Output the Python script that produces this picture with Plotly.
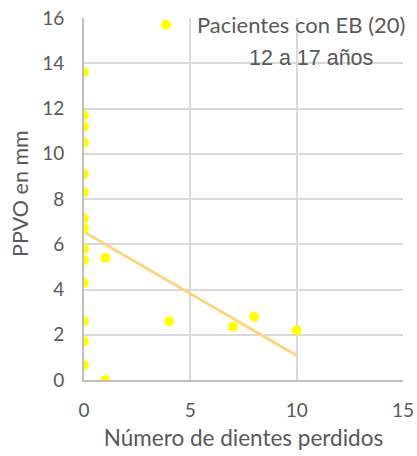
import numpy as np
import plotly.graph_objects as go

# Data
dientes_perdidos = [0, 0, 0, 0, 0, 0, 0, 0, 0, 0, 0, 0, 0, 0, 1, 1, 4, 7, 8, 10]
ppvo_mm = [13.6, 11.7, 11.2, 10.5, 9.1, 8.3, 7.15, 6.7, 5.8, 5.3, 4.3, 2.6, 1.7, 0.65,
           5.4, 0.0, 2.6, 2.35, 2.8, 2.2]
serie_nombre = "Pacientes con EB (20)"
subtitulo = "12 a 17 años"
titulo_x = "Número de dientes perdidos"
titulo_y = "PPVO en mm"
x_ticks = [0, 5, 10, 15]
y_ticks = [0, 2, 4, 6, 8, 10, 12, 14, 16]

# Linear trend line
slope, intercept = np.polyfit(dientes_perdidos, ppvo_mm, 1)
trend_x = [min(dientes_perdidos), max(dientes_perdidos)]
trend_y = [slope * v + intercept for v in trend_x]

FONT = "Lato, 'Open Sans', sans-serif"
GRAY = "#595959"
W, H = 417, 456

fig = go.Figure()
fig.add_trace(go.Scatter(
    x=trend_x, y=trend_y, mode="lines",
    line=dict(color="#FFD37A", width=2.8),
    showlegend=False, hoverinfo="skip"))
fig.add_trace(go.Scatter(
    x=dientes_perdidos, y=ppvo_mm, mode="markers",
    name=serie_nombre,
    marker=dict(color="#FFFF00", size=10, line=dict(width=0))))

fig.update_layout(
    width=W, height=H,
    margin=dict(l=84, r=14, t=18, b=76, autoexpand=False),
    paper_bgcolor="white", plot_bgcolor="white",
    font=dict(family=FONT, color=GRAY, size=19),
    showlegend=True,
    legend=dict(xref="container", yref="container",
                x=135 / W, xanchor="left", y=1 - 4 / H, yanchor="top",
                bgcolor="rgba(0,0,0,0)", font=dict(size=22, color=GRAY),
                itemwidth=52),
    shapes=[dict(type="rect", xref="paper", yref="paper",
                 x0=0.166, x1=1.03, y0=0.925, y1=1.03,
                 fillcolor="white", line=dict(width=0), layer="between")],
    annotations=[
        dict(text=subtitulo, xref="paper", yref="paper",
             x=0.912, xanchor="right", y=0.889, yanchor="middle",
             showarrow=False,
             font=dict(family="'Liberation Sans', Arial, sans-serif",
                       size=21.5, color=GRAY)),
        dict(text=titulo_y, xref="paper", yref="paper",
             x=(20 - 84) / 319, xanchor="center", y=0.514, yanchor="middle",
             textangle=-90, showarrow=False,
             font=dict(size=21.5, color=GRAY)),
    ],
)
fig.update_xaxes(
    range=[0, 15], tickvals=x_ticks, showgrid=True, gridcolor="#D9D9D9", gridwidth=1.5,
    zeroline=False, showline=True, linecolor="#BFBFBF", linewidth=2,
    ticks="outside", ticklen=12, tickcolor="rgba(0,0,0,0)", ticklabeloverflow="allow",
    title=dict(text=titulo_x, font=dict(size=22.5, color=GRAY), standoff=10),
    tickfont=dict(size=19, color=GRAY))
fig.update_yaxes(
    range=[0, 16], tickvals=y_ticks, showgrid=True, gridcolor="#D9D9D9", gridwidth=1.5,
    zeroline=False, showline=True, linecolor="#BFBFBF", linewidth=2,
    ticks="outside", ticklen=14, tickcolor="rgba(0,0,0,0)", ticklabeloverflow="allow",
    tickfont=dict(size=19, color=GRAY))

fig.write_html("out.html", config={"displayModeBar": False},
               post_script="document.body.style.margin='0px';document.body.style.overflow='hidden';")
